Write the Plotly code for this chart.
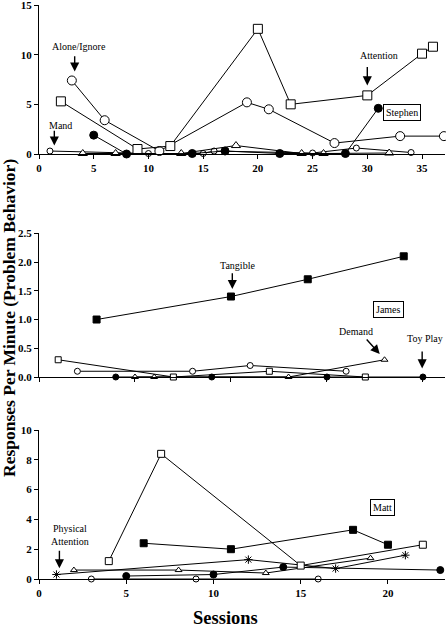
import plotly.graph_objects as go

# ---------------- Data ----------------
# Stephen (top panel)
st_att_x = [2, 9, 12, 20, 23, 30, 35, 36]
st_att_y = [5.3, 0.5, 0.8, 12.6, 5.0, 5.9, 10.1, 10.8]
st_alone_x = [3, 6, 11, 19, 21, 27, 33, 37]
st_alone_y = [7.4, 3.4, 0.3, 5.2, 4.5, 1.1, 1.8, 1.8]
st_mand_x = [1, 10, 15, 16, 25, 29, 34]
st_mand_y = [0.3, 0.05, 0.05, 0.3, 0.1, 0.6, 0.15]
st_tri_x = [4, 7, 13, 18, 24, 26, 32]
st_tri_y = [0.05, 0.05, 0.05, 0.85, 0.05, 0.05, 0.1]
st_fc_x = [5, 8, 14, 17, 22, 28, 31]
st_fc_y = [1.9, 0.0, 0.05, 0.3, 0.05, 0.05, 4.6]

# James (middle panel)
ja_tang_x = [3, 10, 14, 19]
ja_tang_y = [1.0, 1.4, 1.7, 2.1]
ja_sq_x = [1, 7, 12, 17]
ja_sq_y = [0.3, 0.0, 0.1, 0.0]
ja_oc_x = [2, 8, 11, 16]
ja_oc_y = [0.1, 0.1, 0.2, 0.1]
ja_fc_x = [4, 9, 15, 20]
ja_fc_y = [0.0, 0.0, 0.0, 0.0]
ja_tri_x = [5, 6, 13, 18]
ja_tri_y = [0.0, 0.0, 0.0, 0.3]

# Matt (bottom panel)
ma_sq_x = [4, 7, 15, 22]
ma_sq_y = [1.2, 8.4, 0.9, 2.3]
ma_fs_x = [6, 11, 18, 20]
ma_fs_y = [2.4, 2.0, 3.3, 2.3]
ma_tri_x = [2, 8, 13, 19]
ma_tri_y = [0.6, 0.6, 0.4, 1.4]
ma_ast_x = [1, 12, 17, 21]
ma_ast_y = [0.3, 1.3, 0.7, 1.6]
ma_fc_x = [5, 10, 14, 23]
ma_fc_y = [0.2, 0.3, 0.8, 0.6]
ma_oc_x = [3, 9, 16]
ma_oc_y = [0.0, 0.0, 0.0]

# ---------------- Figure ----------------
W, H = 446, 631
FONT = "Times New Roman, Liberation Serif, serif"

def px_x(p):
    return p / W

def px_y(p):
    return 1 - p / H

fig = go.Figure()

def add(xs, ys, symbol, fill, size, xa, ya, lw=1):
    fig.add_trace(go.Scatter(
        x=xs, y=ys, mode="lines+markers",
        line=dict(color="black", width=lw),
        marker=dict(symbol=symbol, color=fill, size=size,
                    line=dict(color="black", width=1)),
        xaxis=xa, yaxis=ya, showlegend=False, cliponaxis=False,
    ))

# top
add(st_mand_x, st_mand_y, "circle", "white", 6, "x", "y")
add(st_tri_x, st_tri_y, "triangle-up", "white", 8, "x", "y")
add(st_fc_x, st_fc_y, "circle", "black", 8, "x", "y")
add(st_alone_x, st_alone_y, "circle", "white", 9, "x", "y")
add(st_att_x, st_att_y, "square", "white", 9, "x", "y")
# middle
add(ja_fc_x, ja_fc_y, "circle", "black", 6, "x2", "y2")
add(ja_tri_x, ja_tri_y, "triangle-up", "white", 6, "x2", "y2")
add(ja_oc_x, ja_oc_y, "circle", "white", 6, "x2", "y2")
add(ja_sq_x, ja_sq_y, "square", "white", 6, "x2", "y2")
add(ja_tang_x, ja_tang_y, "square", "black", 7, "x2", "y2")
# bottom
add(ma_oc_x, ma_oc_y, "circle", "white", 6, "x3", "y3")
add(ma_fc_x, ma_fc_y, "circle", "black", 7, "x3", "y3")
add(ma_tri_x, ma_tri_y, "triangle-up", "white", 6, "x3", "y3")
add(ma_ast_x, ma_ast_y, "asterisk", "black", 7, "x3", "y3")
add(ma_fs_x, ma_fs_y, "square", "black", 7, "x3", "y3")
add(ma_sq_x, ma_sq_y, "square", "white", 7, "x3", "y3")

tickfont = dict(family=FONT, size=11, color="black", weight="bold")

def xaxis(rng, dtick, labels=True):
    return dict(range=rng, domain=[px_x(39), px_x(445)], showline=True,
                linecolor="black", linewidth=1, ticks="outside", ticklen=4,
                tickcolor="black", dtick=dtick, tick0=0, showgrid=False,
                zeroline=False, showticklabels=labels, tickfont=tickfont,
                automargin=False, ticklabeloverflow="allow")

def yaxis(rng, dtick, top, bottom, fmt=None, anchor="x"):
    d = dict(range=rng, domain=[px_y(bottom), px_y(top)], showline=True,
             linecolor="black", linewidth=1, ticks="outside", ticklen=4,
             tickcolor="black", dtick=dtick, tick0=0, showgrid=False,
             zeroline=False, tickfont=tickfont, anchor=anchor,
             automargin=False, ticklabeloverflow="allow")
    if fmt:
        d["tickformat"] = fmt
    return d

fig.update_layout(
    width=W, height=H, margin=dict(l=0, r=0, t=0, b=0, autoexpand=False),
    paper_bgcolor="white", plot_bgcolor="white",
    font=dict(family=FONT, color="black"),
    xaxis=dict(xaxis([0, 37.1], 5), anchor="y"),
    yaxis=yaxis([0, 15], 5, 5, 154, anchor="x"),
    xaxis2=dict(xaxis([0, 21.15], 5, labels=False), anchor="y2"),
    yaxis2=yaxis([0, 2.5], 0.5, 233.3, 377, fmt=".1f", anchor="x2"),
    xaxis3=dict(xaxis([0, 23.27], 5), anchor="y3"),
    yaxis3=yaxis([0, 10], 2, 430, 579, anchor="x3"),
)

anns = []

def text(x, y, t, xr, yr, size=10, box=False, xanchor="center"):
    a = dict(x=x, y=y, xref=xr, yref=yr, text=t, showarrow=False,
             xanchor=xanchor, yanchor="middle",
             font=dict(family=FONT, size=size, color="black"))
    if box:
        a.update(bordercolor="black", borderwidth=1, borderpad=2, bgcolor="white")
    anns.append(a)

def arrow(x, y, axv, ayv, xr, yr):
    anns.append(dict(x=x, y=y, ax=axv, ay=ayv, xref=xr, yref=yr,
                     axref=xr, ayref=yr, text="", showarrow=True,
                     arrowhead=2, arrowsize=1.3, arrowwidth=1.4,
                     arrowcolor="black"))

# top
text(3.7, 10.8, "Alone/Ignore", "x", "y")
arrow(3.26, 8.3, 3.26, 10.0, "x", "y")
text(2.0, 2.9, "Mand", "x", "y")
arrow(1.4, 0.85, 1.4, 2.5, "x", "y")
text(31.1, 9.95, "Attention", "x", "y")
arrow(30.0, 6.9, 30.0, 8.9, "x", "y")
text(33.2, 4.16, "Stephen", "x", "y", box=True)
# middle
text(10.35, 1.94, "Tangible", "x2", "y2")
arrow(10.07, 1.53, 10.07, 1.83, "x2", "y2")
text(18.2, 1.17, "James", "x2", "y2", box=True)
text(16.5, 0.79, "Demand", "x2", "y2")
arrow(17.75, 0.4, 17.0, 0.68, "x2", "y2")
text(21.13, 0.67, "Toy Play", "x2", "y2", xanchor="right")
arrow(19.96, 0.15, 19.96, 0.47, "x2", "y2")
# bottom
text(1.8, 2.93, "Physical<br>Attention", "x3", "y3")
arrow(1.17, 0.72, 1.17, 2.0, "x3", "y3")
text(19.7, 4.8, "Matt", "x3", "y3", box=True)

# axis titles
anns.append(dict(x=px_x(9), y=px_y(318), xref="paper", yref="paper",
                 xanchor="center", yanchor="middle",
                 text="Responses Per Minute (Problem Behavior)", textangle=-90,
                 showarrow=False,
                 font=dict(family=FONT, size=17.5, color="black", weight="bold")))
anns.append(dict(x=px_x(225), y=px_y(618), xref="paper", yref="paper",
                 xanchor="center", yanchor="middle",
                 text="Sessions", showarrow=False,
                 font=dict(family=FONT, size=18.5, color="black", weight="bold")))

fig.update_layout(annotations=anns)
fig.write_html(
    "out.html",
    config={"displayModeBar": False},
    post_script="document.body.style.margin='0';document.body.style.overflow='hidden';",
)
